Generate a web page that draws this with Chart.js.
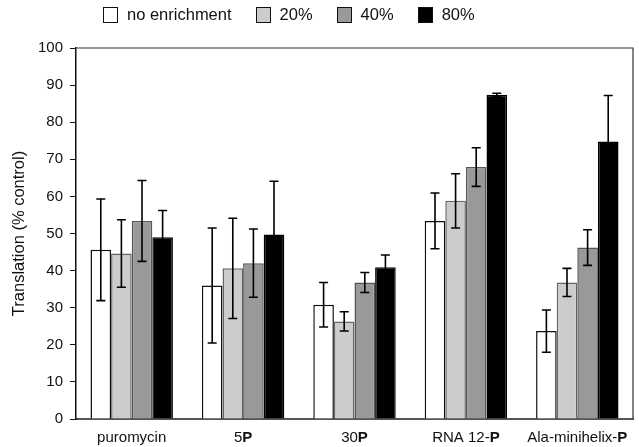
<!DOCTYPE html>
<html>
<head>
<meta charset="utf-8">
<script src="https://cdn.jsdelivr.net/npm/chart.js@4.4.0/dist/chart.umd.min.js"></script>
<style>
  html, body { margin: 0; padding: 0; background: #fff; }
  #wrap { position: relative; width: 639px; height: 447px; }
  #legend {
    position: absolute; left: 103px; top: 5px; display: flex; align-items: center;
    font-family: "Liberation Sans", Arial, sans-serif; font-size: 16.5px; color: #111;
  }
  .item { display: flex; align-items: center; margin-right: 24px; }
  .box { width: 13px; height: 14px; border: 1.5px solid #111; margin-right: 9px; }
</style>
</head>
<body>
<div id="wrap">
  <canvas id="chart" width="639" height="447"></canvas>
  <div id="legend"></div>
</div>
<script>
// Categories (the trailing "P" is printed bold in the original)
const categories = ['puromycin', '5P', '30P', 'RNA 12-P', 'Ala-minihelix-P'];
const boldP = [false, true, true, true, true];

// Series
const seriesNames = ['no enrichment', '20%', '40%', '80%'];
const seriesFill = ['#ffffff', '#cccccc', '#999999', '#000000'];
const seriesBorder = ['#111111', '#666666', '#555555', '#000000'];

const noEnrichment = [45.6, 36.0, 30.8, 53.4, 23.7];
const pct20 = [44.6, 40.6, 26.3, 58.8, 36.8];
const pct40 = [53.4, 42.0, 36.8, 67.9, 46.2];
const pct80 = [49.0, 49.7, 40.9, 87.4, 74.8];

// Error bar half-widths
const errNoEnrichment = [13.7, 15.5, 6.0, 7.5, 5.7];
const err20 = [9.1, 13.5, 2.6, 7.3, 3.8];
const err40 = [10.9, 9.2, 2.7, 5.2, 4.8];
const err80 = [7.2, 14.4, 3.3, 0.4, 12.4];

const seriesValues = [noEnrichment, pct20, pct40, pct80];
const seriesErrors = [errNoEnrichment, err20, err40, err80];

const yTicks = [0, 10, 20, 30, 40, 50, 60, 70, 80, 90, 100];

const FONT = '"Liberation Sans", Arial, sans-serif';

// HTML legend
const legendEl = document.getElementById('legend');
seriesNames.forEach((name, i) => {
  const item = document.createElement('div');
  item.className = 'item';
  const box = document.createElement('span');
  box.className = 'box';
  box.style.background = seriesFill[i];
  const label = document.createElement('span');
  label.textContent = name;
  item.appendChild(box);
  item.appendChild(label);
  legendEl.appendChild(item);
});

// Error bars drawn from each bar element
const errorBarPlugin = {
  id: 'errorBars',
  afterDatasetsDraw(chart) {
    const ctx = chart.ctx;
    const yScale = chart.scales.y;
    ctx.save();
    ctx.strokeStyle = '#000';
    ctx.lineWidth = 1.6;
    chart.data.datasets.forEach((ds, di) => {
      const meta = chart.getDatasetMeta(di);
      meta.data.forEach((bar, i) => {
        const v = ds.data[i];
        const e = seriesErrors[di][i];
        const yTop = yScale.getPixelForValue(v + e);
        const yBot = yScale.getPixelForValue(v - e);
        const cap = 4.5;
        ctx.beginPath();
        ctx.moveTo(bar.x, yTop);
        ctx.lineTo(bar.x, yBot);
        ctx.moveTo(bar.x - cap, yTop);
        ctx.lineTo(bar.x + cap, yTop);
        ctx.moveTo(bar.x - cap, yBot);
        ctx.lineTo(bar.x + cap, yBot);
        ctx.stroke();
      });
    });
    ctx.restore();
  }
};

// Top and right frame lines plus category labels with bold P
const framePlugin = {
  id: 'frame',
  afterDraw(chart) {
    const ctx = chart.ctx;
    const a = chart.chartArea;
    ctx.save();
    ctx.strokeStyle = '#333';
    ctx.lineWidth = 1.2;
    ctx.beginPath();
    ctx.moveTo(a.left, a.top);
    ctx.lineTo(a.right, a.top);
    ctx.lineTo(a.right, a.bottom);
    ctx.stroke();

    const xScale = chart.scales.x;
    const y = a.bottom + 19;
    ctx.fillStyle = '#111';
    ctx.textBaseline = 'middle';
    categories.forEach((cat, i) => {
      const cx = xScale.getPixelForValue(i);
      const head = boldP[i] ? cat.slice(0, -1) : cat;
      const tail = boldP[i] ? cat.slice(-1) : '';
      ctx.font = '15px ' + FONT;
      const wHead = ctx.measureText(head).width;
      ctx.font = 'bold 15px ' + FONT;
      const wTail = tail ? ctx.measureText(tail).width : 0;
      let x = cx - (wHead + wTail) / 2;
      ctx.textAlign = 'left';
      ctx.font = '15px ' + FONT;
      ctx.fillText(head, x, y);
      if (tail) {
        ctx.font = 'bold 15px ' + FONT;
        ctx.fillText(tail, x + wHead, y);
      }
    });
    ctx.restore();
  }
};

new Chart(document.getElementById('chart'), {
  type: 'bar',
  data: {
    labels: categories,
    datasets: seriesNames.map((name, i) => ({
      label: name,
      data: seriesValues[i],
      backgroundColor: seriesFill[i],
      borderColor: seriesBorder[i],
      borderWidth: 1.5,
      borderSkipped: 'bottom',
      categoryPercentage: 0.74,
      barPercentage: 1.0
    }))
  },
  options: {
    responsive: false,
    animation: false,
    devicePixelRatio: 1,
    layout: { padding: { top: 48, right: 6, left: 0, bottom: 0 } },
    plugins: {
      legend: { display: false },
      tooltip: { enabled: false }
    },
    scales: {
      x: {
        grid: { display: false },
        border: { display: true, color: '#555', width: 2 },
        ticks: { display: false },
        afterFit(scale) { scale.height = 28; }
      },
      y: {
        min: 0,
        max: 100,
        afterBuildTicks(scale) { scale.ticks = yTicks.map(v => ({ value: v })); },
        grid: { drawOnChartArea: false, drawTicks: true, tickLength: 6, color: '#111' },
        border: { display: true, color: '#111', width: 1.5 },
        ticks: {
          padding: 7,
          color: '#111',
          font: { family: FONT, size: 15 }
        },
        title: {
          display: true,
          text: 'Translation (% control)',
          color: '#111',
          font: { family: FONT, size: 16.5 },
          padding: { top: 10, bottom: 0 }
        },
        afterFit(scale) { scale.width = 76; }
      }
    }
  },
  plugins: [errorBarPlugin, framePlugin]
});
</script>
</body>
</html>
